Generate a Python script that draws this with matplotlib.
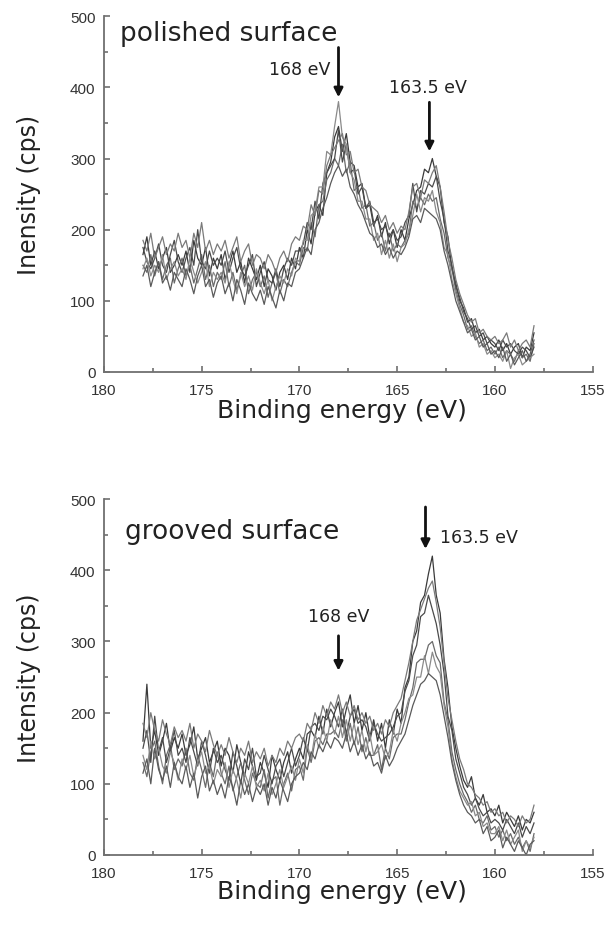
import numpy as np
import matplotlib
matplotlib.use("Agg")
import matplotlib.pyplot as plt
from matplotlib.ticker import MultipleLocator

# ---------------------------------------------------------------- data
# scan grid 178.0 -> 158.0 eV, 0.2 eV step (101 channels)
energy = np.linspace(178.0, 158.0, 101)

# polished surface, repeated scans (cps)
polished_1 = [165, 190, 150, 170, 145, 160, 175, 140, 150, 165,
              150, 170, 140, 185, 160, 150, 175, 135, 160, 145,
              165, 130, 150, 170, 140, 155, 125, 160, 145, 130,
              150, 120, 145, 135, 115, 140, 150, 130, 160, 145,
              175, 160, 200, 180, 225, 235, 220, 280, 295, 330,
              345, 310, 335, 295, 290, 260, 265, 230, 235, 205,
              220, 190, 210, 180, 200, 175, 200, 185, 215, 235,
              255, 260, 285, 280, 300, 275, 260, 210, 190, 145,
              125, 100, 90, 70, 75, 55, 60, 45, 50, 40,
              35, 45, 30, 40, 25, 35, 40, 20, 35, 30, 55]
polished_2 = [150, 140, 165, 135, 155, 130, 150, 160, 125, 145,
              160, 135, 150, 125, 145, 165, 130, 150, 120, 140,
              130, 155, 120, 140, 115, 135, 150, 110, 130, 140,
              120, 135, 105, 125, 140, 110, 130, 120, 140, 155,
              150, 175, 170, 210, 190, 235, 240, 270, 280, 300,
              290, 320, 280, 295, 255, 260, 230, 235, 205, 210,
              185, 195, 170, 195, 170, 180, 175, 185, 195, 240,
              230, 245, 235, 250, 240, 245, 215, 195, 160, 145,
              115, 95, 80, 60, 65, 50, 40, 45, 30, 35,
              25, 35, 20, 30, 25, 15, 30, 20, 25, 15, 40]
polished_3 = [175, 155, 145, 160, 180, 150, 140, 165, 185, 155,
              140, 160, 175, 150, 200, 155, 145, 170, 150, 160,
              150, 170, 140, 160, 175, 145, 135, 150, 165, 120,
              140, 155, 130, 125, 145, 120, 145, 160, 150, 170,
              170, 180, 210, 200, 240, 215, 265, 280, 290, 300,
              340, 295, 320, 280, 285, 250, 260, 230, 240, 210,
              215, 200, 205, 190, 200, 185, 190, 210, 220, 265,
              225, 255, 250, 265, 260, 275, 240, 215, 170, 150,
              120, 105, 85, 75, 60, 65, 50, 55, 40, 45,
              40, 30, 45, 35, 40, 30, 25, 35, 30, 20, 35]
polished_4 = [145, 160, 135, 150, 140, 165, 130, 145, 155, 135,
              145, 130, 160, 140, 125, 140, 155, 120, 140, 130,
              140, 125, 155, 130, 110, 140, 120, 135, 115, 145,
              125, 110, 130, 100, 120, 135, 125, 145, 135, 160,
              155, 185, 185, 220, 225, 260, 260, 310, 305, 345,
              380, 330, 320, 280, 270, 240, 240, 215, 215, 185,
              195, 165, 185, 160, 180, 155, 175, 180, 200, 220,
              250, 225, 245, 240, 255, 225, 210, 175, 165, 130,
              110, 90, 70, 65, 50, 55, 35, 40, 25, 30,
              20, 25, 15, 30, 5, 20, 25, 10, 15, 20, 25]
polished_5 = [135, 150, 120, 140, 155, 125, 135, 115, 140, 130,
              120, 145, 130, 110, 135, 150, 120, 130, 105, 125,
              135, 110, 125, 100, 130, 115, 95, 125, 110, 100,
              115, 95, 120, 105, 90, 115, 100, 125, 120, 140,
              145, 160, 175, 165, 200, 210, 230, 245, 265, 280,
              290, 275, 285, 260, 250, 235, 225, 210, 195, 190,
              175, 180, 165, 175, 160, 170, 165, 175, 190, 215,
              220, 210, 230, 225, 220, 215, 200, 170, 150, 125,
              100, 85, 70, 55, 60, 45, 50, 35, 40, 25,
              30, 20, 35, 15, 25, 10, 20, 30, 15, 25, 45]
polished_6 = [185, 170, 195, 160, 175, 190, 165, 180, 170, 195,
              175, 185, 160, 195, 175, 210, 170, 185, 165, 180,
              170, 185, 160, 175, 190, 155, 170, 180, 150, 165,
              160, 145, 165, 155, 140, 160, 170, 155, 180, 190,
              185, 205, 200, 235, 220, 255, 250, 290, 305, 315,
              325, 335, 305, 310, 280, 285, 260, 255, 235, 230,
              225, 210, 220, 200, 210, 195, 205, 200, 225, 260,
              265, 245, 270, 265, 280, 290, 260, 225, 185, 160,
              130, 110, 95, 80, 70, 75, 55, 60, 50, 45,
              50, 40, 45, 55, 35, 45, 30, 40, 45, 35, 65]

# grooved surface, repeated scans (cps)
grooved_1 = [160, 240, 150, 175, 140, 160, 185, 145, 165, 150,
             170, 140, 155, 180, 135, 150, 165, 130, 145, 160,
             125, 150, 140, 115, 155, 130, 110, 145, 125, 105,
             130, 115, 95, 140, 120, 105, 130, 145, 115, 135,
             150, 135, 170, 175, 165, 195, 170, 205, 180, 200,
             215, 180, 205, 225, 185, 210, 175, 200, 165, 190,
             160, 185, 150, 190, 170, 205, 185, 235, 250, 300,
             315, 355, 365, 395, 420, 365, 340, 275, 235, 180,
             150, 125, 105, 95, 110, 80, 70, 85, 60, 65,
             55, 70, 45, 60, 50, 40, 55, 35, 50, 45, 60]
grooved_2 = [130, 110, 145, 160, 125, 100, 140, 155, 120, 135,
             125, 150, 115, 105, 140, 120, 95, 130, 110, 145,
             115, 100, 125, 90, 110, 130, 105, 85, 115, 100,
             95, 120, 80, 105, 110, 70, 100, 115, 90, 120,
             125, 105, 150, 130, 160, 165, 155, 170, 170, 175,
             165, 190, 160, 185, 155, 180, 145, 165, 140, 140,
             155, 120, 150, 135, 165, 170, 170, 190, 215, 235,
             270, 275, 275, 295, 300, 280, 270, 215, 190, 145,
             120, 100, 85, 75, 60, 70, 50, 45, 55, 35,
             40, 25, 35, 20, 30, 15, 25, 10, 20, 5, 30]
grooved_3 = [150, 175, 130, 195, 145, 165, 130, 150, 175, 140,
             150, 130, 165, 145, 125, 160, 140, 115, 150, 130,
             140, 120, 105, 145, 125, 100, 135, 120, 150, 110,
             115, 140, 120, 100, 125, 135, 110, 130, 150, 125,
             140, 165, 145, 180, 185, 175, 195, 190, 205, 195,
             180, 205, 170, 195, 205, 185, 190, 180, 160, 185,
             170, 160, 165, 170, 180, 195, 200, 230, 245, 280,
             295, 335, 340, 365, 345, 325, 295, 255, 195, 175,
             135, 115, 95, 85, 70, 80, 65, 55, 60, 45,
             50, 45, 35, 50, 40, 30, 45, 25, 40, 30, 45]
grooved_4 = [140, 120, 160, 135, 150, 125, 115, 145, 130, 105,
             135, 120, 140, 110, 130, 145, 115, 125, 100, 120,
             110, 130, 95, 120, 105, 80, 115, 100, 125, 95,
             105, 90, 115, 85, 100, 120, 95, 110, 125, 105,
             135, 115, 155, 135, 170, 150, 180, 160, 190, 170,
             195, 165, 190, 160, 185, 155, 175, 145, 170, 140,
             145, 155, 135, 145, 175, 160, 185, 200, 220, 225,
             250, 250, 280, 255, 285, 265, 255, 210, 180, 135,
             110, 90, 80, 70, 75, 55, 60, 40, 45, 30,
             30, 40, 20, 35, 15, 25, 35, 5, 20, 10, 25]
grooved_5 = [115, 135, 100, 150, 120, 105, 125, 95, 130, 110,
             100, 125, 95, 115, 80, 110, 125, 90, 105, 85,
             100, 80, 110, 95, 70, 105, 85, 100, 75, 95,
             85, 100, 70, 95, 80, 105, 90, 75, 100, 110,
             115, 130, 120, 145, 135, 155, 145, 160, 150, 165,
             160, 150, 170, 145, 160, 140, 155, 135, 145, 125,
             130, 115, 140, 125, 135, 150, 160, 170, 190, 210,
             225, 240, 245, 255, 250, 245, 225, 195, 165, 130,
             105, 85, 70, 60, 55, 45, 50, 30, 40, 20,
             25, 35, 10, 25, 15, 5, 20, 10, 0, 15, 20]
grooved_6 = [185, 165, 200, 175, 160, 190, 170, 155, 180, 165,
             175, 160, 185, 150, 170, 160, 145, 175, 155, 140,
             155, 140, 165, 145, 130, 150, 140, 160, 130, 145,
             135, 150, 125, 140, 130, 150, 140, 160, 150, 165,
             170, 160, 185, 175, 200, 185, 210, 195, 215, 205,
             225, 200, 215, 195, 210, 190, 200, 185, 195, 175,
             185, 170, 190, 180, 200, 210, 220, 245, 270, 300,
             330, 345, 360, 375, 385, 355, 320, 270, 220, 190,
             160, 135, 120, 100, 95, 85, 80, 70, 75, 60,
             65, 55, 60, 45, 55, 50, 40, 55, 45, 50, 70]

polished = [polished_1, polished_2, polished_3, polished_4, polished_5, polished_6]
grooved = [grooved_1, grooved_2, grooved_3, grooved_4, grooved_5, grooved_6]
shades = ["#3a3a3a", "#6a6a6a", "#4a4a4a", "#8a8a8a", "#5a5a5a", "#7a7a7a"]

# ---------------------------------------------------------------- figure
plt.rcParams["font.family"] = ["DejaVu Sans"]
fig = plt.figure(figsize=(6.11, 9.29), dpi=100)
ax_top = fig.add_axes([0.170, 0.5985, 0.800, 0.383])
ax_bot = fig.add_axes([0.170, 0.0786, 0.800, 0.383])

def style(ax, ylabel, xlab_y):
    ax.set_xlim(180, 155)
    ax.set_ylim(0, 500)
    ax.xaxis.set_major_locator(MultipleLocator(5))
    ax.xaxis.set_minor_locator(MultipleLocator(2.5))
    ax.yaxis.set_major_locator(MultipleLocator(100))
    ax.yaxis.set_minor_locator(MultipleLocator(50))
    for s in ["top", "right"]:
        ax.spines[s].set_visible(False)
    for s in ["left", "bottom"]:
        ax.spines[s].set_color("#707070")
        ax.spines[s].set_linewidth(1.3)
    ax.tick_params(which="both", direction="in", color="#707070", width=1.2,
                   labelsize=11, labelcolor="#333333")
    ax.tick_params(axis="x", pad=8)
    ax.tick_params(axis="y", pad=6)
    ax.tick_params(which="major", length=4)
    ax.tick_params(which="minor", length=3)
    for lab in ax.get_xticklabels() + ax.get_yticklabels():
        lab.set_family("Liberation Sans")
    ax.set_xlabel("Binding energy (eV)", fontsize=18, color="#222222")
    ax.set_ylabel(ylabel, fontsize=17, color="#222222")
    ax.xaxis.set_label_coords(0.487, xlab_y)
    ax.yaxis.set_label_coords(-0.128, 0.5)

def arrow(ax, x, y_from, y_to):
    ax.annotate("", xy=(x, y_to), xytext=(x, y_from),
                arrowprops=dict(arrowstyle="-|>", color="#111111", lw=2.0,
                                mutation_scale=13, shrinkA=0, shrinkB=0))

txt = dict(color="#222222", va="center")

for trace, c in zip(polished, shades):
    ax_top.plot(energy, trace, color=c, lw=0.9)
style(ax_top, "Inensity (cps)", -0.072)
ax_top.text(179.2, 477, "polished surface", fontsize=19, **txt)
ax_top.text(168.4, 426, "168 eV", fontsize=12.5, ha="right", **txt)
arrow(ax_top, 168.0, 456, 386)
ax_top.text(165.4, 400, "163.5 eV", fontsize=12.5, ha="left", **txt)
arrow(ax_top, 163.35, 379, 310)

for trace, c in zip(grooved, shades):
    ax_bot.plot(energy, trace, color=c, lw=0.9)
style(ax_bot, "Intensity (cps)", -0.068)
ax_bot.text(178.9, 455, "grooved surface", fontsize=19, **txt)
ax_bot.text(162.8, 447, "163.5 eV", fontsize=12.5, ha="left", **txt)
arrow(ax_bot, 163.55, 489, 430)
ax_bot.text(168.0, 336, "168 eV", fontsize=12.5, ha="center", **txt)
arrow(ax_bot, 168.0, 308, 259)

fig.savefig("out.png", dpi=100)
